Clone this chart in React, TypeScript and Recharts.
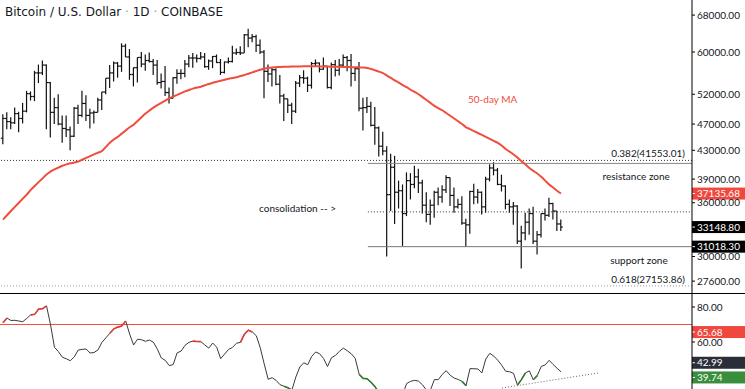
import React from "react";
import {
  ComposedChart,
  Bar,
  Line,
  XAxis,
  YAxis,
  ReferenceLine,
  ReferenceDot,
} from "recharts";

// daily bars, BTC/USD Coinbase, 11 Feb -> 2 Jul 2021 (index 0..141)
const opens = [
  44800, 47900, 47400, 47200, 48700, 47900, 49100, 52100, 51600, 55900,
  55900, 57400, 54100, 48900, 49700, 47000, 46300, 46100, 45100, 49600,
  48400, 50400, 48400, 48800, 48900, 51000, 52400, 54900, 55900, 57800,
  57200, 61200, 59000, 55600, 56900, 58900, 57600, 58300, 58100, 57400,
  54100, 54300, 52300, 51300, 55000, 55800, 55800, 57600, 58800, 58800,
  58700, 59000, 57100, 58200, 59100, 57900, 56000, 58000, 58100, 59800,
  59900, 59800, 63600, 62900, 63200, 61400, 60000, 56200, 55700, 56500,
  53800, 51700, 51200, 50100, 49100, 54000, 55000, 54900, 53600, 57700,
  57800, 56600, 57200, 53200, 57500, 56400, 57400, 58900, 58300, 55800,
  56700, 49600, 49700, 49900, 46800, 46400, 43600, 42900, 37000, 40600,
  37300, 37500, 34700, 38800, 38300, 39300, 38500, 35700, 34600, 35700,
  37300, 36700, 37600, 39200, 36900, 35500, 35800, 33600, 33400, 37400,
  36700, 37300, 35500, 39000, 40500, 40200, 38300, 38100, 35800, 35500,
  35600, 31600, 32500, 33700, 34700, 31600, 32300, 34700, 34500, 35900,
  35000, 33500,
];
const highs = [
  48600, 48900, 48100, 49700, 49000, 50500, 52600, 52500, 56300, 57500,
  58300, 57500, 54200, 51400, 52000, 48400, 48400, 46600, 49800, 50200,
  52600, 51800, 49500, 49200, 51400, 52400, 54900, 57400, 58100, 58000,
  61800, 61700, 60600, 56900, 58900, 60000, 59500, 59900, 58600, 58400,
  55800, 57200, 53200, 55100, 56600, 56600, 58400, 59400, 59800, 59500,
  60000, 59800, 58500, 59200, 59500, 58600, 58100, 58900, 61300, 60700,
  61200, 63800, 64900, 63800, 63600, 62600, 60400, 57500, 57000, 56800,
  55500, 52100, 51200, 50500, 54400, 55500, 56400, 55200, 58000, 58500,
  57900, 58900, 57200, 57900, 58400, 58600, 59500, 59200, 59600, 57000,
  58000, 51400, 51500, 50700, 49800, 46600, 45800, 43600, 42500, 42200,
  38800, 38300, 39900, 39800, 40800, 40400, 38900, 37300, 36400, 37500,
  37900, 38200, 39500, 39200, 37900, 36500, 36800, 34100, 37500, 38400,
  37700, 37400, 39300, 41000, 41300, 40500, 39600, 38200, 36400, 36100,
  35700, 33300, 34800, 35300, 35500, 32700, 34700, 35300, 36600, 36000,
  35000, 34000,
];
const lows = [
  43900, 46200, 46200, 47000, 45700, 47100, 48900, 50900, 50800, 54000,
  55500, 46200, 44900, 47000, 46800, 44100, 45000, 43000, 45000, 47000,
  48100, 47500, 46300, 47100, 48900, 49300, 52000, 53100, 54300, 55000,
  56100, 59000, 54600, 53400, 54100, 57000, 56300, 57900, 55500, 53700,
  53000, 51700, 50400, 51300, 53900, 54700, 55100, 57000, 56900, 57900,
  58500, 56900, 56500, 56800, 57800, 55500, 55800, 57700, 57900, 59400,
  59400, 59800, 61000, 62000, 60000, 59600, 51300, 54200, 53400, 53600,
  50400, 47500, 48800, 47000, 48800, 53300, 53900, 52400, 53000, 57100,
  56000, 56500, 53000, 52900, 55200, 55400, 56900, 56200, 53400, 54400,
  49100, 46000, 48800, 46600, 43800, 42100, 42300, 30000, 35000, 33500,
  35300, 31100, 34400, 36400, 37800, 37200, 34700, 33700, 33400, 34200,
  35700, 36000, 37200, 35600, 34800, 35300, 33400, 31000, 32400, 35800,
  35900, 34600, 34800, 38700, 39500, 38200, 37400, 35200, 34800, 33400,
  31300, 28800, 31700, 32300, 31300, 30200, 32000, 33900, 34300, 34000,
  32700, 32700,
];
const closes = [
  47900, 47400, 47200, 48700, 47900, 49100, 52100, 51600, 55900, 55900,
  57400, 54100, 48900, 49700, 47000, 46300, 46100, 45100, 49600, 48400,
  50400, 48400, 48800, 48900, 51000, 52400, 54900, 55900, 57800, 57200,
  61200, 59000, 55600, 56900, 58900, 57600, 58300, 58100, 57400, 54100,
  54300, 52300, 51300, 55000, 55800, 55800, 57600, 58800, 58800, 58700,
  59000, 57100, 58200, 59100, 57900, 56000, 58000, 58100, 59800, 59900,
  59800, 63600, 62900, 63200, 61400, 60000, 56200, 55700, 56500, 53800,
  51700, 51200, 50100, 49100, 54000, 55000, 54900, 53600, 57700, 57800,
  56600, 57200, 53200, 57500, 56400, 57400, 58900, 58300, 55800, 56700,
  49600, 49700, 49900, 46800, 46400, 43600, 42900, 37000, 40600, 37300,
  37500, 34700, 38800, 38300, 39300, 38500, 35700, 34600, 35700, 37300,
  36700, 37600, 39200, 36900, 35500, 35800, 33600, 33400, 37400, 36700,
  37300, 35500, 39000, 40500, 40200, 38300, 38100, 35800, 35500, 35600,
  31600, 32500, 33700, 34700, 31600, 32300, 34700, 34500, 35900, 35000,
  33500, 33148.8,
];
// 50-day moving average
const ma50 = [
  34000, 34500, 35000, 35500, 36000, 36500, 37000, 37600, 38100, 38600,
  39100, 39600, 40000, 40300, 40550, 40800, 41000, 41150, 41250, 41400,
  41650, 41900, 42150, 42400, 42650, 42900, 43500, 44100, 44600, 45000,
  45500, 46000, 46500, 46900, 47500, 48100, 48700, 49200, 49700, 50100,
  50500, 50900, 51300, 51600, 51900, 52200, 52500, 52750, 53000, 53200,
  53350, 53600, 53850, 54050, 54250, 54450, 54600, 54800, 54950, 55100,
  55300, 55500, 55750, 56000, 56250, 56500, 56700, 56850, 56950, 57000,
  57050, 57080, 57100, 57120, 57140, 57150, 57160, 57170, 57170, 57160,
  57150, 57140, 57120, 57100, 57080, 57060, 57040, 57020, 57000, 56980,
  56950, 56920, 56850, 56650, 56400, 56150, 55860, 55400, 54950, 54500,
  54100, 53650, 53250, 52800, 52400, 52000, 51500, 51000, 50500, 50000,
  49600, 49250, 48800, 48350, 47900, 47450, 47000, 46500, 46200, 45900,
  45600, 45300, 45000, 44700, 44400, 44100, 43700, 43200, 42800, 42400,
  41950, 41450, 41000, 40500, 40100, 39750, 39300, 38800, 38300, 37900,
  37500, 37135.68,
];
// RSI(14)
const rsi14 = [
  71, 73.7, 72.3, 72.4, 72, 71.6, 73.5, 75.5, 75.8, 78.9,
  79, 80.6, 70, 57, 54.5, 51.3, 50.4, 49.3, 51.5, 55.4,
  55.8, 56, 53.7, 54, 55.5, 59.8, 62.4, 65, 67.5, 68.5,
  69.1, 72, 64.5, 58.3, 61.6, 61.3, 60.4, 61.1, 59.9, 55.9,
  50.9, 49.5, 46.5, 47.1, 53.8, 54.8, 58.1, 59.8, 60.5, 60.3,
  60.2, 58.3, 56.5, 59.4, 57, 50.5, 53.1, 55.8, 56.9, 59.3,
  59.8, 64.5, 66.8, 65.7, 63.6, 56.7, 47.5, 38.7, 39.6, 38.1,
  35.6, 34.7, 33.8, 32.5, 40, 45.7, 48.1, 47, 51.8, 54.3,
  53.3, 50.6, 46, 51, 52.3, 54.7, 56.5, 55, 53.3, 50.6,
  41.5, 39.2, 39, 37, 34.5, 31, 30, 24, 28, 26,
  27, 30, 36.3, 37.5, 38.1, 37.6, 35.5, 32.5, 32.5, 38.5,
  38.5, 41.5, 43.6, 41, 39.4, 38.6, 37.5, 35, 44.8, 44.7,
  44.6, 42.3, 50.3, 53.5, 52, 49.6, 46.8, 43.3, 43, 42.1,
  35.4, 38.5, 42.3, 43.5, 38.4, 40.8, 46, 46.9, 49.5, 47.2,
  45, 42.99,
];
// stretches of the RSI line drawn red / green (bar index ranges)
const hotRanges = [[0, 1], [7, 11], [27, 31], [48, 50], [60, 63]];
const coldRanges = [[71, 73], [90, 95], [116, 117], [130, 132], [134, 135]];

const fib382 = 41553.01;
const fib618 = 27153.86;
const resistance = 41130;
const midRange = 34900;
const support = 31018.3;
const rangeStart = 92.2;

const priceTicks = [27600, 30000, 36000, 39000, 43000, 47000, 52000, 60000, 68000];
const rsiTicks = [60, 80];
const rsiUpper = 70;
const rsiTrend = [{ x: 126.1, y: 33.7 }, { x: 150.4, y: 42.3 }];
const rsiExtraTags = [
  { value: 65.68, color: "#f0483e" },
  { value: 39.74, color: "#388e3c" },
];

const X_DOMAIN: [number, number] = [-0.76, 174.1];
const PRICE_DOMAIN: [number, number] = [26420, 71570];
const RSI_DOMAIN: [number, number] = [33.14, 87.43];
const AXIS_W = 53;
const FONT = "Lato, 'Liberation Sans', sans-serif";
const INK = "#131722";

const bars = opens.map((open, i) => ({
  i,
  open,
  high: highs[i],
  low: lows[i],
  close: closes[i],
  ma: ma50[i],
}));

const inRanges = (ranges: number[][], i: number) =>
  ranges.some(([a, b]) => i >= a && i <= b);

const rsiRows = rsi14.map((v, i) => ({
  i,
  rsi: v,
  hot: inRanges(hotRanges, i) ? v : null,
  cold: inRanges(coldRanges, i) ? v : null,
}));

const OhlcShape = (props: any) => {
  const { x, y, width, height, payload } = props;
  if (!payload || y == null || height == null) return null;
  const cx = x + width / 2;
  const top = Math.min(y, y + height);
  const bot = Math.max(y, y + height);
  const lh = Math.log(payload.high);
  const ll = Math.log(payload.low);
  const at = (v: number) =>
    lh === ll ? top : top + ((bot - top) * (lh - Math.log(v))) / (lh - ll);
  const yo = at(payload.open);
  const yc = at(payload.close);
  return (
    <g stroke="#111" strokeWidth={1.2}>
      <line x1={cx} x2={cx} y1={top} y2={bot} />
      <line x1={cx - 2} x2={cx} y1={yo} y2={yo} />
      <line x1={cx} x2={cx + 2} y1={yc} y2={yc} />
    </g>
  );
};

const Tag = (props: any) => {
  const { viewBox, tagText, tagColor, shift = 0 } = props;
  if (!viewBox) return null;
  const x = viewBox.x + viewBox.width;
  const y = viewBox.y + shift;
  return (
    <g>
      <rect x={x} y={y - 6} width={AXIS_W} height={12} fill={tagColor} />
      <line x1={x} x2={x + 3} y1={y} y2={y} stroke="#fff" />
      <text x={x + 5} y={y} dy="0.35em" fill="#fff" fontSize={10} fontFamily={FONT}>
        {tagText}
      </text>
    </g>
  );
};

const FibText = (props: any) => {
  const { viewBox, txt } = props;
  if (!viewBox) return null;
  return (
    <text
      x={viewBox.x + viewBox.width - 7}
      y={viewBox.y - 3}
      textAnchor="end"
      fill={INK}
      fontSize={10}
      fontFamily={FONT}
    >
      {txt}
    </text>
  );
};

const Note = (props: any) => {
  const { viewBox, txt, anchor = "start", color = INK, size = 10 } = props;
  if (!viewBox) return null;
  return (
    <text
      x={viewBox.x}
      y={viewBox.y}
      dy="0.35em"
      textAnchor={anchor}
      fill={color}
      fontSize={size}
      fontFamily={FONT}
    >
      {txt}
    </text>
  );
};

const axisTick = { fill: INK, fontSize: 10, fontFamily: FONT };
const last = bars.length - 1;

export default function App() {
  return (
    <div
      style={{
        position: "absolute",
        left: 0,
        top: 0,
        width: 745,
        height: 389,
        background: "#fff",
        overflow: "hidden",
        fontFamily: FONT,
      }}
    >
      <ComposedChart width={745} height={294} data={bars} margin={{ top: 0, right: 0, bottom: 0, left: 0 }}>
        <XAxis dataKey="i" type="number" domain={X_DOMAIN} hide allowDataOverflow />
        <YAxis
          orientation="right"
          scale="log"
          domain={PRICE_DOMAIN}
          allowDataOverflow
          ticks={priceTicks}
          interval={0}
          width={AXIS_W}
          tickSize={3}
          tickMargin={2}
          tick={axisTick}
          tickFormatter={(v) => Number(v).toFixed(2)}
          axisLine={{ stroke: "#000" }}
          tickLine={{ stroke: "#000" }}
        />
        <ReferenceLine
          y={fib382}
          stroke="#333"
          strokeDasharray="1 2"
          label={<FibText txt={`0.382(${fib382.toFixed(2)})`} />}
        />
        <ReferenceLine
          y={fib618}
          stroke="#999"
          strokeDasharray="1 2"
          label={<FibText txt={`0.618(${fib618.toFixed(2)})`} />}
        />
        <ReferenceLine
          segment={[{ x: rangeStart, y: resistance }, { x: X_DOMAIN[1], y: resistance }]}
          stroke="#888"
        />
        <ReferenceLine
          segment={[{ x: rangeStart, y: midRange }, { x: X_DOMAIN[1], y: midRange }]}
          stroke="#333"
          strokeDasharray="1 2"
        />
        <ReferenceLine
          segment={[{ x: rangeStart, y: support }, { x: X_DOMAIN[1], y: support }]}
          stroke="#777"
        />
        <Bar
          dataKey={(d: any) => [d.low, d.high]}
          shape={(p: any) => <OhlcShape {...p} />}
          barSize={4}
          isAnimationActive={false}
        />
        <Line
          dataKey="ma"
          type="monotone"
          stroke="#ef4d3e"
          strokeWidth={2}
          dot={false}
          activeDot={false}
          isAnimationActive={false}
        />
        <ReferenceDot x={160} y={39280} r={0} fill="none" stroke="none" label={<Note txt="resistance zone" anchor="middle" />} />
        <ReferenceDot x={160.7} y={29640} r={0} fill="none" stroke="none" label={<Note txt="support zone" anchor="middle" />} />
        <ReferenceDot x={64.7} y={35250} r={0} fill="none" stroke="none" label={<Note txt="consolidation -- >" />} />
        <ReferenceDot x={117.5} y={51160} r={0} fill="none" stroke="none" label={<Note txt="50-day MA" color="#ef4d3e" size={10} />} />
        <ReferenceLine y={ma50[last]} stroke="none" label={<Tag tagText={ma50[last].toFixed(2)} tagColor="#f0483e" />} />
        <ReferenceLine y={closes[last]} stroke="none" label={<Tag tagText={closes[last].toFixed(2)} tagColor="#000" />} />
        <ReferenceLine y={support} stroke="none" label={<Tag tagText={support.toFixed(2)} tagColor="#000" />} />
      </ComposedChart>

      <div style={{ position: "absolute", left: 0, top: 293, width: 745, height: 1, background: "#000" }} />

      <div style={{ position: "absolute", left: 0, top: 294 }}>
        <ComposedChart width={745} height={95} data={rsiRows} margin={{ top: 0, right: 0, bottom: 0, left: 0 }}>
          <XAxis dataKey="i" type="number" domain={X_DOMAIN} hide allowDataOverflow />
          <YAxis
            orientation="right"
            domain={RSI_DOMAIN}
            allowDataOverflow
            ticks={rsiTicks}
            interval={0}
            width={AXIS_W}
            tickSize={3}
            tickMargin={2}
            tick={axisTick}
            tickFormatter={(v) => Number(v).toFixed(2)}
            axisLine={{ stroke: "#000" }}
            tickLine={{ stroke: "#000" }}
          />
          <ReferenceLine y={rsiUpper} stroke="#f0503c" />
          <ReferenceLine segment={rsiTrend} stroke="#666" strokeDasharray="1 2" />
          <Line dataKey="rsi" type="linear" stroke="#3a3a3a" strokeWidth={1} dot={false} activeDot={false} isAnimationActive={false} />
          <Line dataKey="hot" type="linear" stroke="#e53935" strokeWidth={1.6} dot={false} activeDot={false} isAnimationActive={false} />
          <Line dataKey="cold" type="linear" stroke="#2e7d32" strokeWidth={1.6} dot={false} activeDot={false} isAnimationActive={false} />
          {rsiExtraTags.map((t) => (
            <ReferenceLine key={t.value} y={t.value} stroke="none" label={<Tag tagText={t.value.toFixed(2)} tagColor={t.color} />} />
          ))}
          <ReferenceLine y={rsi14[last]} stroke="none" label={<Tag tagText={rsi14[last].toFixed(2)} tagColor="#2a2e39" shift={-9} />} />
        </ComposedChart>
      </div>

      <div
        style={{
          position: "absolute",
          left: 5,
          top: 5,
          fontSize: 12,
          lineHeight: "14px",
          fontFamily: "'DejaVu Sans', sans-serif",
          color: INK,
          whiteSpace: "nowrap",
        }}
      >
        Bitcoin / U.S. Dollar <span style={{ color: "#9598a1" }}>·</span> 1D{" "}
        <span style={{ color: "#9598a1" }}>·</span> COINBASE
      </div>
    </div>
  );
}
